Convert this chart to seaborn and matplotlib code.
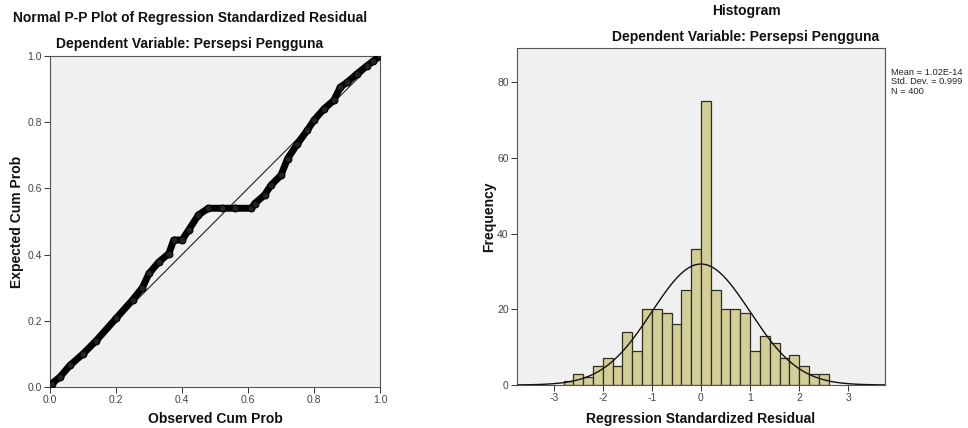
import numpy as np
import pandas as pd
import matplotlib
matplotlib.use("Agg")
import matplotlib.pyplot as plt
import seaborn as sns

# ---- data ----
# Histogram of regression standardized residuals (bin width 0.2)
bin_edges = [-2.8, -2.6, -2.4, -2.2, -2.0, -1.8, -1.6, -1.4, -1.2, -1.0, -0.8, -0.6, -0.4, -0.2,
             0.0, 0.2, 0.4, 0.6, 0.8, 1.0, 1.2, 1.4, 1.6, 1.8, 2.0, 2.2, 2.4, 2.6]
bin_counts = [1, 3, 2, 5, 7, 5, 14, 9, 20, 20, 19, 16, 25, 36,
              75, 25, 20, 20, 19, 9, 13, 11, 7, 8, 5, 3, 3]
res_mean = 1.02e-14
res_sd = 0.999
res_n = 400

# Normal P-P plot points
pp_observed = [0.005, 0.03, 0.06, 0.10, 0.14, 0.20, 0.25, 0.28, 0.30, 0.33, 0.36, 0.375, 0.40,
               0.42, 0.45, 0.48, 0.52, 0.56, 0.61, 0.62, 0.65, 0.67, 0.70, 0.72, 0.75,
               0.78, 0.80, 0.83, 0.86, 0.88, 0.90, 0.93, 0.96, 0.98, 1.00]
pp_expected = [0.01, 0.03, 0.065, 0.10, 0.14, 0.207, 0.263, 0.30, 0.343, 0.378, 0.403, 0.444, 0.444,
               0.474, 0.52, 0.54, 0.54, 0.54, 0.54, 0.554, 0.58, 0.61, 0.64, 0.69, 0.735,
               0.776, 0.806, 0.84, 0.866, 0.906, 0.92, 0.946, 0.97, 0.985, 1.00]

pp_ticks = [0.0, 0.2, 0.4, 0.6, 0.8, 1.0]
hist_xticks = [-3, -2, -1, 0, 1, 2, 3]
hist_yticks = [0, 20, 40, 60, 80]

# ---- style ----
sns.set_theme(style="white")
plt.rcParams['font.family'] = ['Liberation Sans', 'DejaVu Sans']
plt.rcParams['axes.linewidth'] = 0.8

W, H = 968, 428
fig = plt.figure(figsize=(W / 100, H / 100), dpi=100)

def ax_rect(l, t, r, b):
    return [l / W, 1 - b / H, (r - l) / W, (b - t) / H]

bg = "#F0F0F0"
tick_color = "#333333"
title_kw = dict(fontsize=10, fontweight="bold", color="#111111", ha="center", va="center")
label_kw = dict(fontsize=10, fontweight="bold", color="#111111")

# ---- left: P-P plot ----
ax1 = fig.add_axes(ax_rect(50, 56, 380, 387))
ax1.set_facecolor(bg)
ax1.plot([0, 1], [0, 1], color="#222222", lw=0.8, zorder=2)
pp_df = pd.DataFrame({"obs": pp_observed, "exp": pp_expected})
sns.lineplot(data=pp_df, x="obs", y="exp", ax=ax1, color="black", lw=5,
             sort=False, zorder=3, estimator=None)
sns.scatterplot(data=pp_df, x="obs", y="exp", ax=ax1, s=24, facecolor="#222222",
                edgecolor="black", linewidth=0.8, zorder=4)
ax1.set_xlim(0, 1)
ax1.set_ylim(0, 1)
ax1.set_xticks(pp_ticks)
ax1.set_yticks(pp_ticks)
ax1.set_xticklabels([f"{t:.1f}" for t in pp_ticks])
ax1.set_yticklabels([f"{t:.1f}" for t in pp_ticks])
ax1.set_xlabel("Observed Cum Prob", labelpad=5, **label_kw)
ax1.set_ylabel("Expected Cum Prob", labelpad=2, **label_kw)

# ---- right: histogram ----
ax2 = fig.add_axes(ax_rect(517, 48, 885, 385))
ax2.set_facecolor(bg)
centers = [(bin_edges[i] + bin_edges[i + 1]) / 2 for i in range(len(bin_counts))]
sns.histplot(x=centers, weights=bin_counts, bins=bin_edges, ax=ax2,
             color="#D3CE97", edgecolor="#2e2e22", linewidth=0.9, alpha=1.0, zorder=2)
xs = np.linspace(-3.75, 3.75, 400)
bw = bin_edges[1] - bin_edges[0]
ys = res_n * bw * np.exp(-0.5 * ((xs - res_mean) / res_sd) ** 2) / (res_sd * np.sqrt(2 * np.pi))
ax2.plot(xs, ys, color="#111111", lw=1.0, zorder=3)
ax2.set_xlim(-3.75, 3.75)
ax2.set_ylim(0, 89)
ax2.set_xticks(hist_xticks)
ax2.set_yticks(hist_yticks)
ax2.set_xticklabels([str(t) for t in hist_xticks])
ax2.set_xlabel("Regression Standardized Residual", labelpad=6, **label_kw)
ax2.set_ylabel("Frequency", labelpad=1, **label_kw)

for ax in (ax1, ax2):
    ax.tick_params(axis="both", which="both", direction="out", length=4, width=0.7,
                   labelsize=7.5, colors=tick_color, labelcolor="#444444", pad=2,
                   bottom=True, left=True)
    for s in ax.spines.values():
        s.set_color("#555555")
        s.set_linewidth(0.8)

# ---- titles ----
fig.text(190 / W, 1 - 18 / H, "Normal P-P Plot of Regression Standardized Residual", **title_kw)
fig.text(190 / W, 1 - 44 / H, "Dependent Variable: Persepsi Pengguna", **title_kw)
fig.text(746 / W, 1 - 11 / H, "Histogram", **title_kw)
fig.text(746 / W, 1 - 37 / H, "Dependent Variable: Persepsi Pengguna", **title_kw)

fig.text(891 / W, 1 - 68 / H, f"Mean = 1.02E-14\nStd. Dev. = {res_sd}\nN = {res_n}",
         fontsize=6.7, color="#222222", ha="left", va="top", linespacing=1.05)

fig.savefig("out.png", dpi=100)
